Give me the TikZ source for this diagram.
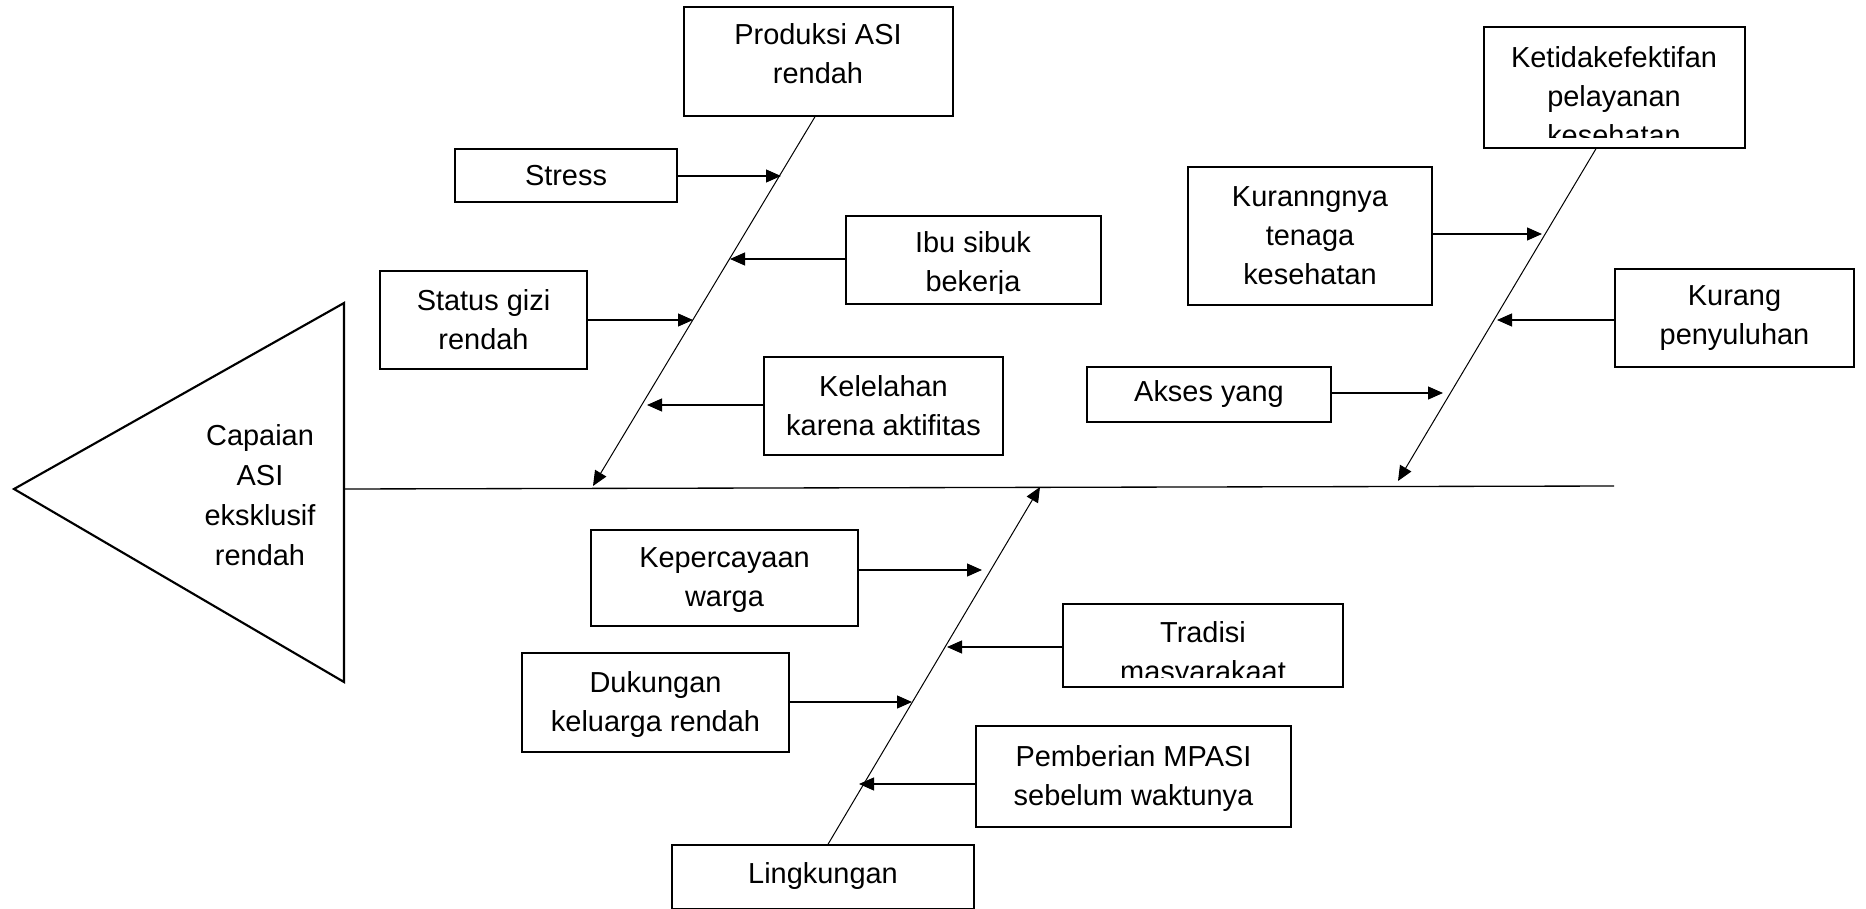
\documentclass[tikz,border=0pt]{standalone}
\usepackage{fontspec}
\setmainfont{Liberation Sans}
\usetikzlibrary{arrows.meta,fit}
\newcommand\boxfont{\fontsize{21.7pt}{29.25pt}\selectfont}
\newcommand\headfont{\fontsize{21.7pt}{30pt}\selectfont}
\begin{document}
\begin{tikzpicture}[x=0.75pt,y=-0.75pt,
  cause/.style={draw, line width=1.1pt, inner sep=0pt},
  txt/.style={inner sep=0pt, align=center, font=\boxfont},
  bone/.style={line width=0.75pt, -{Triangle[length=11.25pt,width=9.75pt]}},
  arr/.style={line width=0.9pt, -{Triangle[length=11.25pt,width=9.75pt]}},
  spine/.style={line width=1pt},
  head/.style={draw, line width=1.6pt, line join=miter},
]
\useasboundingbox (0,0) rectangle (1866,909);

% effect (fish head)
\draw[head] (344,303) -- (14,489) -- (344,682) -- cycle;
\node[txt, font=\headfont] (effect) at (260,495) {Capaian\\ASI\\eksklusif\\rendah};

% main spine
\coordinate (sL) at (344,489);
\coordinate (sR) at (1614,486);
\draw[spine] (sL) -- (sR);

% ---------- category boxes ----------
\node[cause, fit={(684,7) (953,116)}] (prod) {};
\node[txt] (prodT) at (818,54) {Produksi ASI\\rendah};
\node[cause, fit={(1484,27) (1745,148)}] (ketidak) {};
\node[cause, fit={(672,845) (974,909)}] (ling) {};
\node[txt] (lingT) at (823,876) {Lingkungan};

% ---------- cause boxes ----------
\node[cause, fit={(455,149) (677,202)}] (stress) {};
\node[txt] (stressT) at (stress) {Stress};
\node[cause, fit={(846,216) (1101,304)}] (ibu) {};
\node[cause, fit={(380,271) (587,369)}] (gizi) {};
\node[txt] (giziT) at (gizi) {Status gizi\\rendah};
\node[cause, fit={(764,357) (1003,455)}] (lelah) {};
\node[txt] (lelahT) at (lelah) {Kelelahan\\karena aktifitas};

\node[cause, fit={(1188,167) (1432,305)}] (tenaga) {};
\node[txt] (tenagaT) at (tenaga) {Kuranngnya\\tenaga\\kesehatan};
\node[cause, fit={(1615,269) (1854,367)}] (suluh) {};
\node[txt] (suluhT) at (suluh) {Kurang\\penyuluhan};
\node[cause, fit={(1087,367) (1331,422)}] (akses) {};
\node[txt] (aksesT) at (akses) {Akses yang};

\node[cause, fit={(591,530) (858,626)}] (percaya) {};
\node[txt] (percayaT) at ([yshift=-1.5pt]percaya.center) {Kepercayaan\\warga};
\node[cause, fit={(1063,604) (1343,687)}] (tradisi) {};
\node[cause, fit={(522,653) (789,752)}] (dukung) {};
\node[txt] (dukungT) at ([yshift=-1.5pt]dukung.center) {Dukungan\\keluarga rendah};
\node[cause, fit={(976,726) (1291,827)}] (mpasi) {};
\node[txt] (mpasiT) at ([yshift=-1.5pt]mpasi.center) {Pemberian MPASI\\sebelum waktunya};

% texts that run past the bottom of their boxes
\begin{scope}
  \clip (ketidak.north west) rectangle ([yshift=8.25pt]ketidak.south east);
  \node[txt] (ketidakT) at (1614,96) {Ketidakefektifan\\pelayanan\\kesehatan};
\end{scope}
\begin{scope}
  \clip (ibu.north west) rectangle ([yshift=8.25pt]ibu.south east);
  \node[txt] (ibuT) at (973,265) {Ibu sibuk\\bekerja};
\end{scope}
\begin{scope}
  \clip (tradisi.north west) rectangle ([yshift=7.5pt]tradisi.south east);
  \node[txt] (tradisiT) at (1203,655) {Tradisi\\masyarakaat};
\end{scope}

% ---------- bones ----------
\coordinate (b1) at (prod.south -| 815,0);
\coordinate (b1tip) at (593,486);
\draw[bone] (b1) -- (b1tip);

\coordinate (b2) at (ketidak.south -| 1596,0);
\coordinate (b2tip) at (1398,481);
\draw[bone] (b2) -- (b2tip);

\coordinate (b3) at (ling.north -| 828,0);
\coordinate (b3tip) at (1040,487);
\draw[bone] (b3) -- (b3tip);

% ---------- cause arrows ----------
\coordinate (tStress) at (781,176);
\coordinate (tIbu) at (730,259);
\coordinate (tGizi) at (693,320);
\coordinate (tLelah) at (647,405);
\draw[arr] (stress.east |- tStress) -- (tStress);
\draw[arr] (ibu.west |- tIbu) -- (tIbu);
\draw[arr] (gizi.east |- tGizi) -- (tGizi);
\draw[arr] (lelah.west |- tLelah) -- (tLelah);

\coordinate (tTenaga) at (1542,234);
\coordinate (tSuluh) at (1497,320);
\coordinate (tAkses) at (1443,393);
\draw[arr] (tenaga.east |- tTenaga) -- (tTenaga);
\draw[arr] (suluh.west |- tSuluh) -- (tSuluh);
\draw[arr] (akses.east |- tAkses) -- (tAkses);

\coordinate (tPercaya) at (982,570);
\coordinate (tTradisi) at (947,647);
\coordinate (tDukung) at (912,702);
\coordinate (tMpasi) at (859,784);
\draw[arr] (percaya.east |- tPercaya) -- (tPercaya);
\draw[arr] (tradisi.west |- tTradisi) -- (tTradisi);
\draw[arr] (dukung.east |- tDukung) -- (tDukung);
\draw[arr] (mpasi.west |- tMpasi) -- (tMpasi);
\end{tikzpicture}
\end{document}
